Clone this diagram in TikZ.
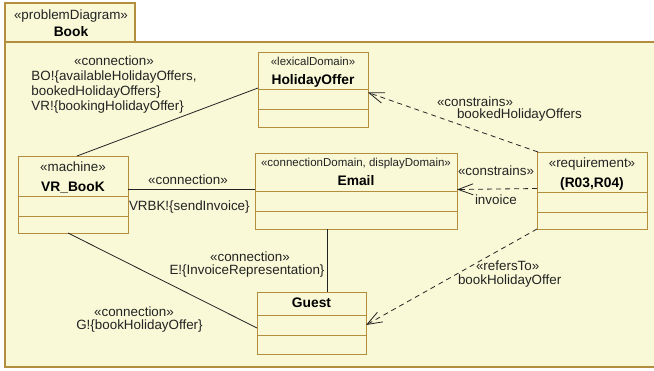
\documentclass[tikz,border=0pt]{standalone}
\usepackage{fontspec}
\setmainfont{Liberation Sans}
\usetikzlibrary{arrows.meta,calc}

\definecolor{paper}{RGB}{249,249,215}
\definecolor{rim}{RGB}{178,142,62}
\definecolor{ink}{RGB}{35,35,35}

\newcommand\lblfont{\fontsize{13.4}{15}\selectfont}
\newcommand\stfont{\fontsize{11.5}{13}\selectfont}
\newcommand\namefont{\fontsize{13.8}{15}\selectfont\bfseries}

\tikzset{
  umlbox/.style={draw=rim, fill=paper, line width=0.9pt, inner sep=0pt, outer sep=0pt, anchor=north west},
  sepline/.style={draw=rim, line width=0.9pt},
  lbl/.style={inner sep=0pt, outer sep=0pt, font=\lblfont, text=ink, anchor=base west},
  clbl/.style={inner sep=0pt, outer sep=0pt, font=\lblfont, text=ink, anchor=base},
  stlbl/.style={inner sep=0pt, outer sep=0pt, font=\stfont, text=ink, anchor=base},
  namelbl/.style={inner sep=0pt, outer sep=0pt, font=\namefont, text=black, anchor=base},
  wire/.style={draw=ink, line width=0.8pt},
  dep/.style={wire, dash pattern=on 5pt off 4pt, -{Straight Barb[length=15pt,width=11pt]}}
}

\begin{document}
\begin{tikzpicture}[x=1pt,y=-1pt]
  \useasboundingbox (0,0) rectangle (654,370);
  \clip (0,0) rectangle (654,370);

  % diagram frame with its name tab
  \node[umlbox, line width=1.1pt, minimum width=130pt, minimum height=39pt] (tab) at (5,3) {};
  \node[umlbox, line width=1.1pt, minimum width=660pt, minimum height=325pt] (frame) at (5,42) {};
  \node[clbl] (tabst) at (71,19.5) {«problemDiagram»};
  \node[namelbl] (tabname) at (71,36.5) {Book};

  % HolidayOffer
  \node[umlbox, minimum width=110pt, minimum height=75pt] (ho) at (258,52) {};
  \draw[sepline] (ho.west |- 0,89) -- (ho.east |- 0,89);
  \draw[sepline] (ho.west |- 0,109) -- (ho.east |- 0,109);
  \node[stlbl] (host) at (313,65) {«lexicalDomain»};
  \node[namelbl] (honame) at (313,84.5) {HolidayOffer};

  % VR_BooK
  \node[umlbox, minimum width=110pt, minimum height=77pt] (vr) at (18,156) {};
  \draw[sepline] (vr.west |- 0,196.5) -- (vr.east |- 0,196.5);
  \draw[sepline] (vr.west |- 0,216.5) -- (vr.east |- 0,216.5);
  \node[clbl] (vrst) at (73,171.5) {«machine»};
  \node[namelbl] (vrname) at (73,191.5) {VR\_BooK};

  % Email
  \node[umlbox, minimum width=202pt, minimum height=76pt] (em) at (255,153) {};
  \draw[sepline] (em.west |- 0,191) -- (em.east |- 0,191);
  \draw[sepline] (em.west |- 0,211) -- (em.east |- 0,211);
  \node[stlbl] (emst) at (356,166) {«connectionDomain, displayDomain»};
  \node[namelbl] (emname) at (356,185.5) {Email};

  % requirement
  \node[umlbox, minimum width=110pt, minimum height=77pt] (rq) at (537,152) {};
  \draw[sepline] (rq.west |- 0,192) -- (rq.east |- 0,192);
  \draw[sepline] (rq.west |- 0,212) -- (rq.east |- 0,212);
  \node[clbl] (rqst) at (592,167.5) {«requirement»};
  \node[namelbl] (rqname) at (592,187.5) {(R03,R04)};

  % Guest
  \node[umlbox, minimum width=109pt, minimum height=62pt] (gu) at (257,292) {};
  \draw[sepline] (gu.west |- 0,315.5) -- (gu.east |- 0,315.5);
  \draw[sepline] (gu.west |- 0,335.5) -- (gu.east |- 0,335.5);
  \node[namelbl] (guname) at (311.5,307.5) {Guest};

  % connections
  \draw[wire] ([xshift=59pt]vr.north west) -- ([yshift=1.5pt]ho.west);
  \draw[wire] (vr.east |- 0,189) -- (em.west |- 0,189);
  \draw[wire] ([xshift=50pt]vr.south west) -- ([yshift=-5pt]gu.west);
  \draw[wire] ([xshift=-29pt]em.south) -- ([xshift=15.5pt]gu.north);

  % dependencies from the requirement
  \draw[dep] ([xshift=1pt]rq.north west) -- ([yshift=-3pt]ho.east);
  \draw[dep] ([yshift=2pt]rq.west) -- ([yshift=1.5pt]em.east);
  \draw[dep] (rq.south west) -- ([yshift=-2pt]gu.east);

  % connection labels
  \node[inner sep=0pt, font=\lblfont, text=ink, anchor=center] (c1) at (114,84.5)
    {\begin{tabular}{@{}l@{}}\multicolumn{1}{@{}c@{}}{«connection»}\\
      BO!\{availableHolidayOffers,\\ bookedHolidayOffers\}\\ VR!\{bookingHolidayOffer\}\end{tabular}};
  \node[clbl] (c2a) at (188,184.5) {«connection»};
  \node[lbl] (c2b) at (129,210.5) {VRBK!\{sendInvoice\}};
  \node[clbl] (c3a) at (250,261.5) {«connection»};
  \node[clbl] (c3b) at (247,274.5) {E!\{InvoiceRepresentation\}};
  \node[clbl] (c4a) at (134,316.5) {«connection»};
  \node[clbl] (c4b) at (139.5,329.5) {G!\{bookHolidayOffer\}};

  % dependency labels
  \node[lbl] (d1a) at (437,106.5) {«constrains»};
  \node[lbl] (d1b) at (457,118.5) {bookedHolidayOffers};
  \node[lbl] (d2a) at (458,175.5) {«constrains»};
  \node[lbl] (d2b) at (475,204.5) {invoice};
  \node[lbl] (d3a) at (476,270.5) {«refersTo»};
  \node[lbl] (d3b) at (458,284.5) {bookHolidayOffer};
\end{tikzpicture}
\end{document}
